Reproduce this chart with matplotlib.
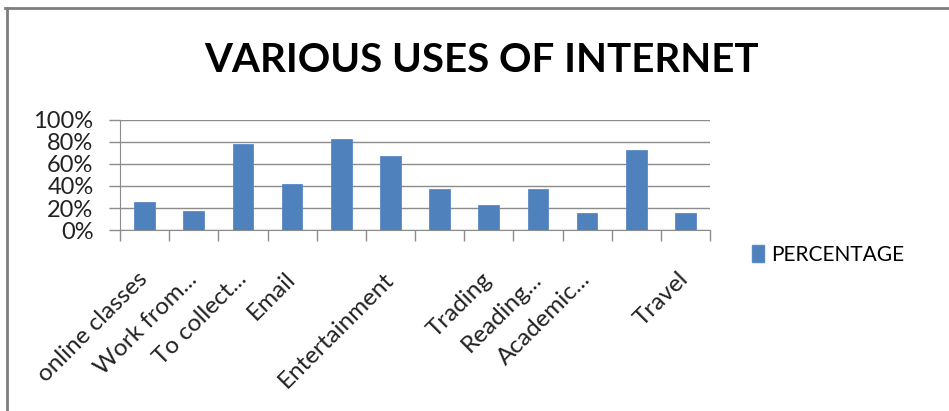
import matplotlib
matplotlib.use("Agg")
import matplotlib.pyplot as plt
from matplotlib.lines import Line2D
from matplotlib.patches import Patch
import numpy as np

# ----------------- Data -----------------
categories = ["online classes", "Work from...", "To collect...", "Email", "",
              "Entertainment", "", "Trading", "Reading...", "Academic...", "", "Travel"]
percentage = [25, 17, 78, 41.5, 83, 67, 37, 23, 37, 15, 73, 15]
y_ticks = [0, 20, 40, 60, 80, 100]
y_tick_labels = ["0%", "20%", "40%", "60%", "80%", "100%"]

BAR_COLOR = "#4F81BD"
GRID_COLOR = "#8C8C8C"
BODY_FONT = ["Lato", "DejaVu Sans"]
TITLE_FONT = ["Lato", "DejaVu Sans"]

fig = plt.figure(figsize=(9.49, 4.11), dpi=100)
W, H = 949, 411

# axes placed in pixel terms of the reference
left, right, top, bottom = 120, 710, 120, 230
ax = fig.add_axes([left / W, 1 - bottom / H, (right - left) / W, (bottom - top) / H])

x = np.arange(len(categories))
ax.bar(x, percentage, width=0.42, color=BAR_COLOR, edgecolor="#5A8AC6", linewidth=0.6, zorder=3)

ax.set_xlim(-0.5, len(categories) - 0.5)
ax.set_ylim(0, 100)

# y axis
ax.set_yticks(y_ticks)
ax.set_yticklabels(y_tick_labels, fontsize=17, family=BODY_FONT, color="#222222")
ax.yaxis.grid(True, color=GRID_COLOR, linewidth=1.0, zorder=0)
ax.tick_params(axis="y", length=8, width=1.0, color=GRID_COLOR, pad=11)

# x axis: labels at centers, tick marks at category boundaries
ax.set_xticks(x)
ax.set_xticklabels(categories, fontsize=17.5, family=BODY_FONT, color="#222222",
                   rotation=45, ha="right", va="center", rotation_mode="anchor")
ax.set_xticks(np.arange(-0.5, len(categories)), minor=True)
ax.tick_params(axis="x", which="major", length=0, pad=33)
ax.tick_params(axis="x", which="minor", length=8, width=1.0, color=GRID_COLOR)

for side in ["top", "right"]:
    ax.spines[side].set_visible(False)
ax.spines["left"].set_color(GRID_COLOR)
ax.spines["bottom"].set_color(GRID_COLOR)
ax.set_axisbelow(True)

# title
fig.text(482 / W, 1 - 60 / H, "VARIOUS USES OF INTERNET", ha="center", va="center",
         fontsize=29, fontweight="bold", family=TITLE_FONT, color="black")

# legend
handle = Patch(facecolor=BAR_COLOR, edgecolor="#5A8AC6")
fig.legend([handle], ["PERCENTAGE"], loc="center left", bbox_to_anchor=(733 / W, 1 - 255 / H),
           frameon=False, handlelength=0.6, handleheight=0.85, handletextpad=0.35,
           prop={"family": BODY_FONT, "size": 15})

# chart frame (top and left edges visible in the crop)
fig.add_artist(Line2D([5 / W, 1], [1 - 8 / H, 1 - 8 / H], color="#7F7F7F", linewidth=2,
                      transform=fig.transFigure))
fig.add_artist(Line2D([7 / W, 7 / W], [0, 1 - 8 / H], color="#7F7F7F", linewidth=2,
                      transform=fig.transFigure))

fig.savefig("out.png", dpi=100)
